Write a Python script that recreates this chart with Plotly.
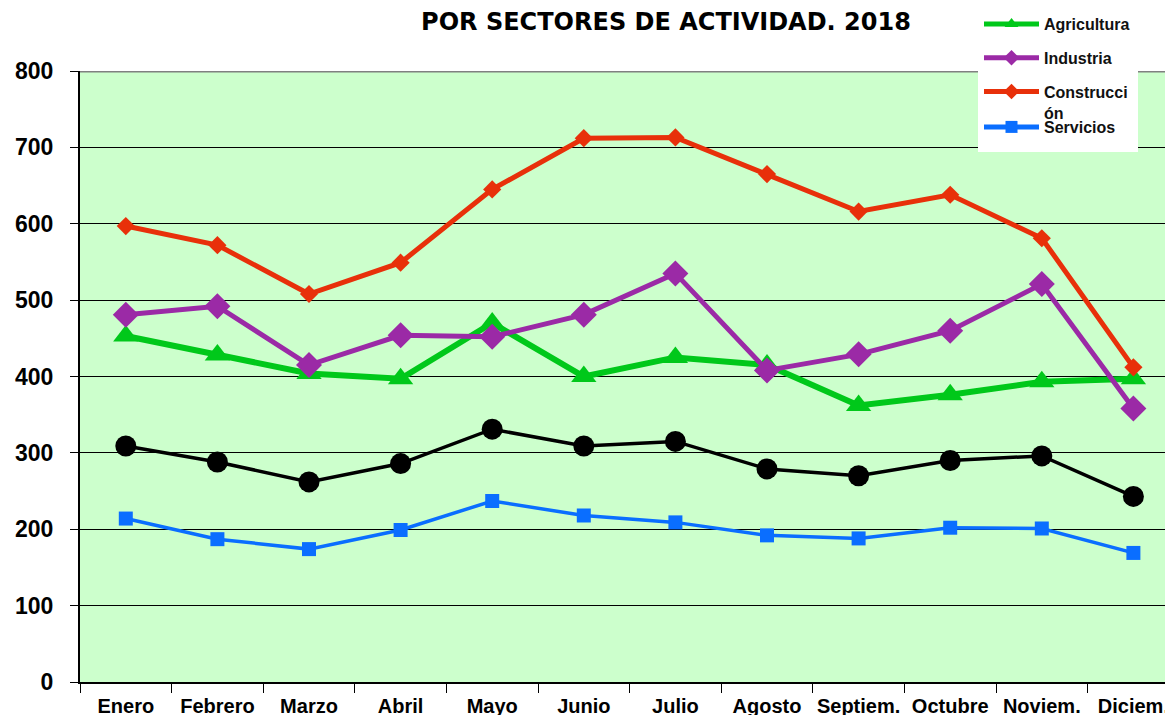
import plotly.graph_objects as go

months = ["Enero", "Febrero", "Marzo", "Abril", "Mayo", "Junio", "Julio",
          "Agosto", "Septiem.", "Octubre", "Noviem.", "Diciem."]
agricultura = [453, 428, 404, 397, 470, 400, 425, 415, 362, 376, 393, 397]
industria = [481, 492, 415, 454, 452, 481, 535, 408, 429, 460, 521, 358]
construccion = [597, 572, 508, 549, 645, 712, 713, 665, 616, 638, 581, 412]
total = [309, 288, 262, 286, 331, 309, 315, 279, 270, 290, 296, 243]
servicios = [214, 187, 174, 199, 237, 218, 209, 192, 188, 202, 201, 169]

# the page body margin is removed (post_script), so the figure fills the window
W, H = 1165, 715
ML, MR, MT, MB = 80, 0, 71, H - 682
PH = H - MT - MB


def py(sy):
    # screen pixel y -> paper y
    return 1 - (sy - MT) / PH


def px(sx):
    return (sx - ML) / (W - ML - MR)


fig = go.Figure()
fig.add_trace(go.Scatter(
    x=months, y=agricultura, name="Agricultura", mode="lines+markers",
    line=dict(color="#00C81A", width=6),
    marker=dict(symbol="triangle-up", size=22, color="#00C81A"),
    legend="legend", legendgroup="a"))
fig.add_trace(go.Scatter(
    x=months, y=industria, name="Industria", mode="lines+markers",
    line=dict(color="#9B2AA6", width=5),
    marker=dict(symbol="diamond", size=20, color="#9B2AA6"),
    legend="legend", legendgroup="b"))
fig.add_trace(go.Scatter(
    x=months, y=construccion, name="Construcci<br>ón", mode="lines+markers",
    line=dict(color="#E8300A", width=5),
    marker=dict(symbol="diamond", size=14, color="#E8300A"),
    legend="legend", legendgroup="c"))
fig.add_trace(go.Scatter(
    x=months, y=total, name="Total", mode="lines+markers",
    line=dict(color="#000000", width=3.5),
    marker=dict(symbol="circle", size=21, color="#000000"),
    showlegend=False))
fig.add_trace(go.Scatter(
    x=months, y=servicios, name="Servicios", mode="lines+markers",
    line=dict(color="#0A6EFF", width=3.5),
    marker=dict(symbol="square", size=14, color="#0A6EFF"),
    legend="legend2"))

legend_font = dict(family="Liberation Sans, Arial", size=16, color="#111111", weight="bold")

fig.update_layout(
    width=W, height=H,
    margin=dict(l=ML, r=MR, t=MT, b=MB, pad=0, autoexpand=False),
    paper_bgcolor="white",
    plot_bgcolor="#CCFFCC",
    title=dict(
        text="POR SECTORES DE ACTIVIDAD. 2018",
        font=dict(family="DejaVu Sans, Verdana", size=24, color="#000000", weight="bold"),
        x=666 / W, xanchor="center", xref="container",
        y=1 - 22 / H, yanchor="middle", yref="container", automargin=False),
    xaxis=dict(
        type="category", range=[-0.5, 11.345], tickangle=0, automargin=False,
        showgrid=False, showline=True, linecolor="#000000", linewidth=2,
        ticks="outside", tickson="boundaries", ticklen=9, tickcolor="#000000", tickwidth=1,
        tickfont=dict(family="Liberation Sans, Arial", size=20, color="#000000", weight="bold"),
        ticklabelstandoff=5, zeroline=False, fixedrange=True),
    yaxis=dict(
        range=[0, 800], dtick=100, tick0=0, automargin=False,
        showgrid=True, gridcolor="#000000", gridwidth=1,
        showline=True, linecolor="#000000", linewidth=2,
        ticks="outside", ticklen=8, tickcolor="#000000", tickwidth=1,
        tickfont=dict(family="Liberation Sans, Arial", size=23, color="#000000", weight="bold"),
        ticklabelstandoff=12, zeroline=False, fixedrange=True),
    legend=dict(
        x=px(979), xanchor="left", y=py(7), yanchor="top",
        bgcolor="rgba(0,0,0,0)", borderwidth=0,
        font=legend_font, traceorder="grouped", tracegroupgap=10,
        itemwidth=55, valign="top", itemsizing="constant"),
    legend2=dict(
        x=px(979), xanchor="left", y=py(110), yanchor="top",
        bgcolor="rgba(0,0,0,0)", borderwidth=0,
        font=legend_font, itemwidth=55, valign="top", itemsizing="constant"),
    shapes=[
        dict(type="line", xref="paper", yref="y", x0=0, x1=1, y0=800, y1=800,
             line=dict(color="#808080", width=3), layer="above"),
        dict(type="rect", xref="paper", yref="paper",
             x0=px(978), x1=px(1138), y0=py(152), y1=py(0),
             fillcolor="white", line=dict(width=0), layer="above"),
    ],
    showlegend=True,
)

fig.write_html(
    "out.html",
    config={"displayModeBar": False},
    post_script="document.body.style.margin='0';"
                "document.documentElement.style.overflow='hidden';",
)
